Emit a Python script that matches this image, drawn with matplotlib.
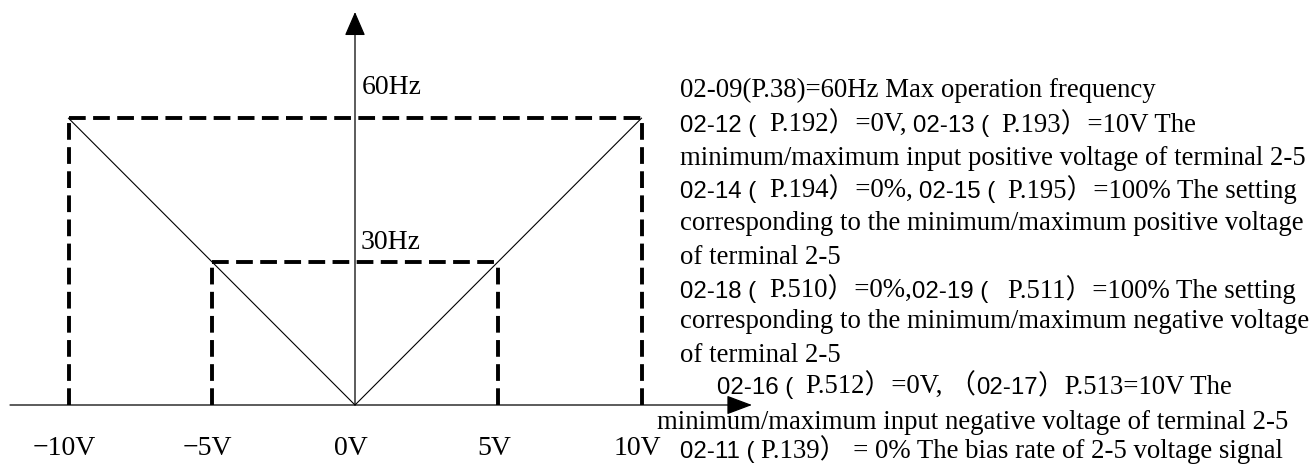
import matplotlib
matplotlib.use("Agg")
import matplotlib.pyplot as plt
from matplotlib.font_manager import FontProperties

# chart values
volts = [-10, -5, 0, 5, 10]
freqs = [60, 30, 0, 30, 60]
tick_labels = ["\u221210V", "\u22125V", "0V", "5V", "10V"]
freq_labels = ["60Hz", "30Hz"]
freq_levels = [60, 30]

SERIF = ["Liberation Serif", "Noto Sans CJK SC"]
SANS = ["Liberation Sans", "Noto Sans CJK SC"]

# explanation text: (left x px, centre y px, [(font, text), ...])
notes = [
    (680, 90, [("r", "02-09(P.38)=60Hz Max operation frequency")]),
    (680, 125, [("s", "02-12 (  "), ("r", "P.192\uff09=0V, "), ("s", "02-13 (  "), ("r", "P.193\uff09=10V The")]),
    (680, 158, [("r", "minimum/maximum input positive voltage of terminal 2-5")]),
    (680, 191, [("s", "02-14 (  "), ("r", "P.194\uff09=0%, "), ("s", "02-15 (  "), ("r", "P.195\uff09=100% The setting")]),
    (680, 223, [("r", "corresponding to the minimum/maximum positive voltage")]),
    (680, 257, [("r", "of terminal 2-5")]),
    (680, 291, [("s", "02-18 (  "), ("r", "P.510\uff09=0%,"), ("s", "02-19 (   "), ("r", "P.511\uff09=100% The setting")]),
    (680, 321, [("r", "corresponding to the minimum/maximum negative voltage")]),
    (680, 355, [("r", "of terminal 2-5")]),
    (717, 387, [("s", "02-16 (  "), ("r", "P.512\uff09=0V, \uff08"), ("s", "02-17"), ("r", "\uff09P.513=10V The")]),
    (657, 422, [("r", "minimum/maximum input negative voltage of terminal 2-5")]),
    (680, 451, [("s", "02-11 ( "), ("r", "P.139\uff09 = 0% The bias rate of 2-5 voltage signal")]),
]

W, H = 1311, 468
X0, XS = 355, 28.65   # pixel of 0V, px per volt
Y0, YS = 405, 4.78    # pixel of 0Hz, px per Hz

fig = plt.figure(figsize=(W / 100, H / 100), dpi=100)
ax = fig.add_axes([0, 0, 1, 1])
ax.axis("off")
ax.set_xlim(-X0 / XS, (W - X0) / XS)
ax.set_ylim((Y0 - H) / YS, Y0 / YS)

dash = dict(color="black", lw=2.8, linestyle=(0, (4.3, 1.9)), dash_capstyle="butt")

# dashed frames
for v, f in zip(volts, freqs):
    if v != 0:
        ax.plot([v, v], [0, f], **dash)
ax.plot([volts[0], volts[-1]], [freqs[0], freqs[-1]], **dash)
ax.plot([volts[1], volts[3]], [freqs[1], freqs[3]], **dash)

# V shaped characteristic
ax.plot(volts[::2], freqs[::2], color="black", lw=0.8)

# axes with arrows
ax.annotate("", xy=((752 - X0) / XS, 0), xytext=((10 - X0) / XS, 0),
            arrowprops=dict(arrowstyle="-|>,head_length=1.6,head_width=0.6",
                            color="black", lw=0.9, shrinkA=0, shrinkB=0, mutation_scale=10))
ax.annotate("", xy=(0, (Y0 - 12) / YS), xytext=(0, 0),
            arrowprops=dict(arrowstyle="-|>,head_length=1.5,head_width=0.65",
                            color="black", lw=0.9, shrinkA=0, shrinkB=0, mutation_scale=10))

# labels
ax.text(0.25, 66.5, freq_labels[0], family=SERIF, fontsize=20, va="center", ha="left")
ax.text(0.2, 33.9, freq_labels[1], family=SERIF, fontsize=20, va="center", ha="left")
for v, lab in zip(volts, tick_labels):
    ax.text(v - 0.15, -9.0, lab, family=SERIF, fontsize=20, va="center", ha="center")

# right hand notes, mixed fonts
renderer = fig.canvas.get_renderer()
props = {"r": FontProperties(family=SERIF, size=19.3), "s": FontProperties(family=SANS, size=17.3)}


def seg_width(s, fp):
    w1 = renderer.get_text_width_height_descent(s + "|", fp, ismath=False)[0]
    w2 = renderer.get_text_width_height_descent("|", fp, ismath=False)[0]
    return w1 - w2


for x, yc, segs in notes:
    for key, s in segs:
        fig.text(x / W, 1 - (yc + 7) / H, s, fontproperties=props[key], va="baseline", ha="left")
        x += seg_width(s, props[key])

fig.savefig("out.png", dpi=100)
